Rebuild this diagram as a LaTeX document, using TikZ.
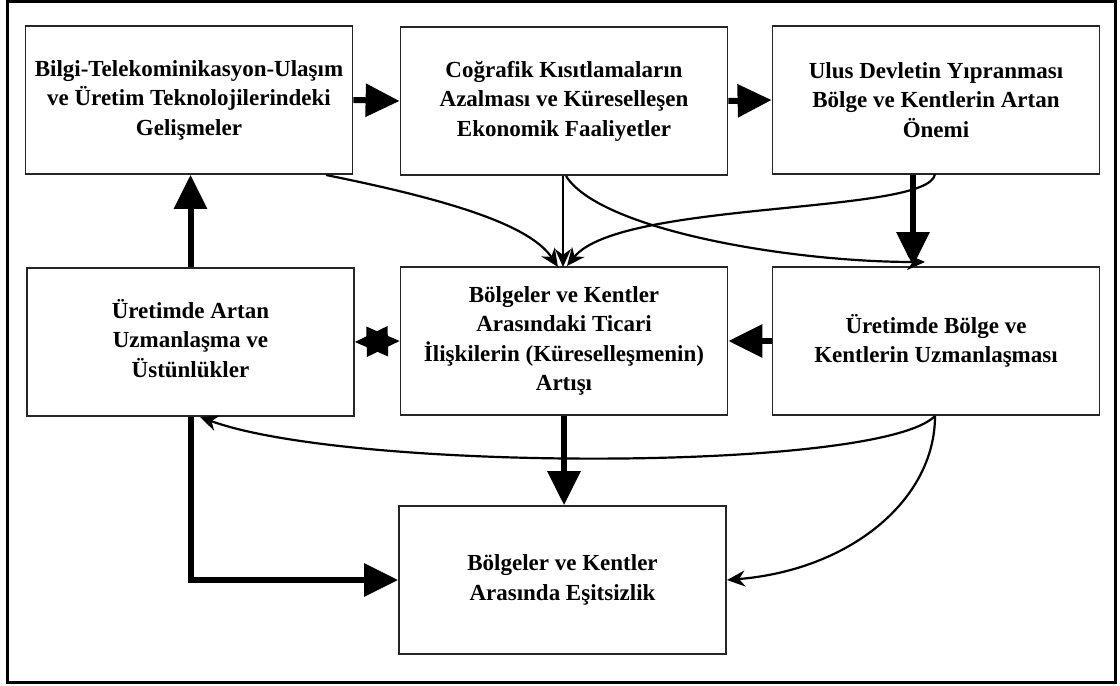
\documentclass[tikz,border=0pt]{standalone}
\usepackage{fontspec}
\setmainfont{Liberation Serif}
\usetikzlibrary{arrows.meta}
\newcommand{\liftlines}[2]{\raisebox{#1}{\begin{tabular}{@{}c@{}}#2\end{tabular}}}
\begin{document}
\begin{tikzpicture}[x=1bp,y=-1bp,
  box/.style={draw=black!85, line width=1.8bp, minimum width=327bp, minimum height=148bp,
    inner sep=0pt, align=center, font=\fontsize{23bp}{29.5bp}\selectfont\bfseries},
  thick/.style={line width=6bp, -{Triangle[length=34bp,width=32bp]}},
  thin/.style={line width=2.2bp, -{Stealth[length=18bp,width=16bp]}},
  starlink/.style={line width=2bp, {Triangle[length=33bp,width=30bp]}-{Triangle[length=33bp,width=30bp]}}
]
\useasboundingbox (0,0) rectangle (1120,686);
\draw[line width=3.5bp] (7.5,1.75) rectangle (1115.5,682.5);

\node[box] (b1) at (189,100) {Bilgi-Telekominikasyon-Ulaşım\\ve Üretim Teknolojilerindeki\\Gelişmeler};
\node[box] (b2) at (564,101) {Coğrafik Kısıtlamaların\\Azalması ve Küreselleşen\\Ekonomik Faaliyetler};
\node[box] (b3) at (936,100) {Ulus Devletin Yıpranması\\Bölge ve Kentlerin Artan\\Önemi};
\node[box] (b4) at (190.5,342) {\liftlines{10bp}{Üretimde Artan\\Uzmanlaşma ve\\Üstünlükler}};
\node[box] (b5) at (564,341) {Bölgeler ve Kentler\\Arasındaki Ticari\\İlişkilerin (Küreselleşmenin)\\Artışı};
\node[box] (b6) at (936,341) {Üretimde Bölge ve\\Kentlerin Uzmanlaşması};
\node[box] (b7) at (562.5,580) {Bölgeler ve Kentler\\Arasında Eşitsizlik};

% thick arrows
\draw[thick] (b1.east) -- (b2.west);
\draw[thick] (b2.east) -- (b3.west);
\draw[thick] ([xshift=-23bp]b3.south) -- ([xshift=-23bp]b6.north);
\draw[thick] (b6.west) -- (b5.east);
\draw[thick] (b4.north) -- (b4.north |- b1.south);
\draw[thick] (b5.south) -- (b5.south |- b7.north);
\draw[thick] (b4.south) |- (b7.west);

% star (double head)
\draw[starlink] (b4.east) -- (b5.west);

% thin connectors
\coordinate (s1) at (326,175);
\coordinate (s2) at (566,176);
\coordinate (s3) at (935,174);
\coordinate (s6) at (935,416);
\draw[thin] (b2.south -| 563,0) -- (563,267);
\draw[thin] (s1) .. controls (450,200) and (530,225) .. (558,267);
\draw[thin] (s2) .. controls (600,230) and (790,262) .. (925,262);
\draw[thin] (s3) .. controls (930,215) and (620,200) .. (567,266);
\draw[thin] (s6) .. controls (880,472) and (350,472) .. (200,417);
\draw[thin] (s6) .. controls (935,500) and (850,570) .. (727,580);
\end{tikzpicture}
\end{document}
